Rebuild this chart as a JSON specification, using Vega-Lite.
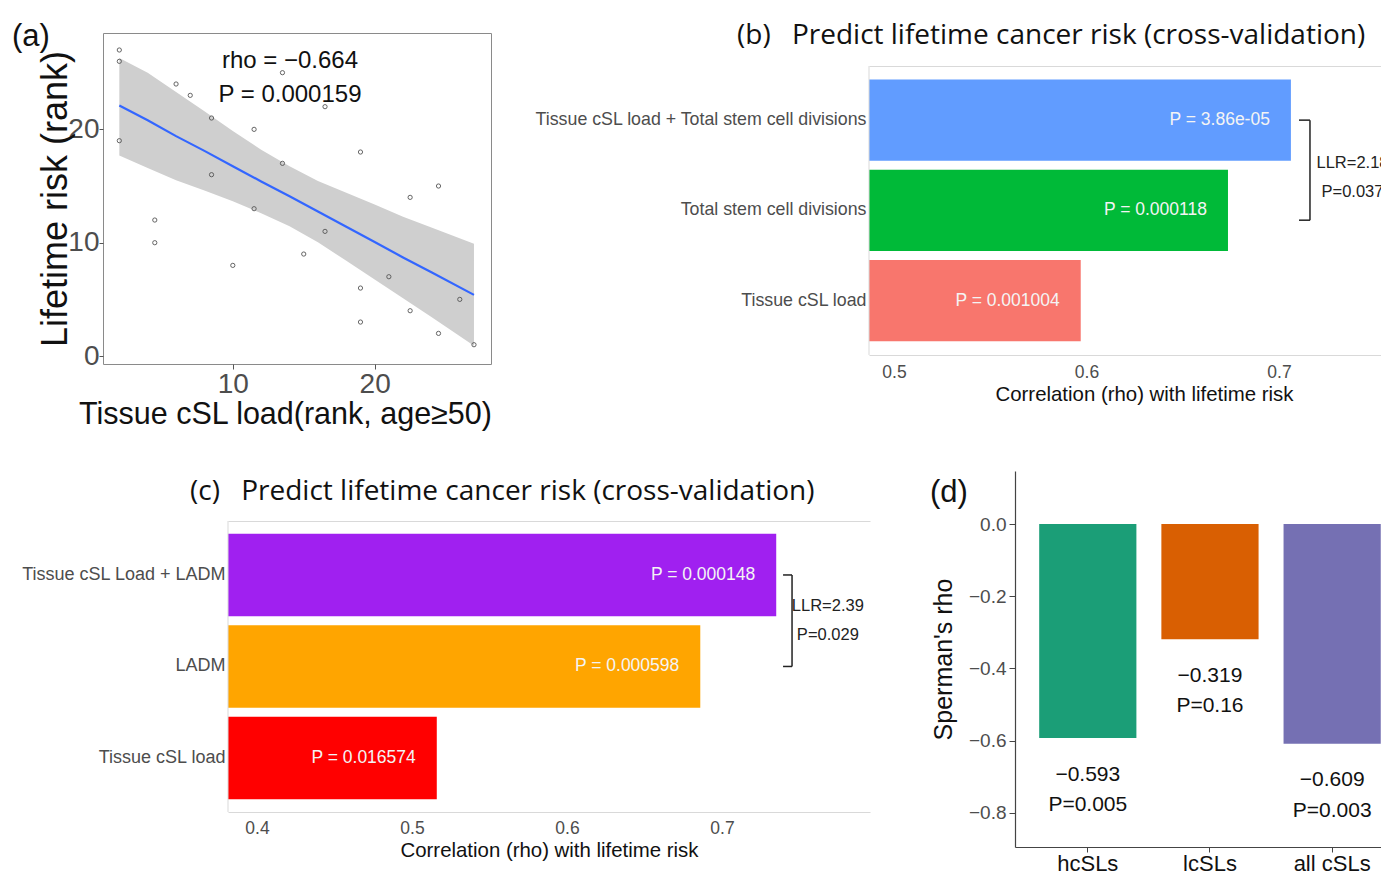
{
"$schema": "https://vega.github.io/schema/vega-lite/v6.json",
"background": "white",
"padding": {"left": 11, "top": 20, "right": 0, "bottom": 0},
"config": {"view": {"stroke": null}, "axis": {"grid": false}, "font": "Liberation Sans"},
"datasets": {
"pts": [{"x":2,"y":27},{"x":2,"y":26},{"x":2,"y":19},{"x":6,"y":24},{"x":7,"y":23},{"x":13.5,"y":25},{"x":16.5,"y":22},{"x":8.5,"y":21},{"x":11.5,"y":20},{"x":13.5,"y":17},{"x":8.5,"y":16},{"x":19,"y":18},{"x":22.5,"y":14},{"x":24.5,"y":15},{"x":4.5,"y":12},{"x":4.5,"y":10},{"x":11.5,"y":13},{"x":16.5,"y":11},{"x":15,"y":9},{"x":10,"y":8},{"x":21,"y":7},{"x":19,"y":6},{"x":26,"y":5},{"x":22.5,"y":4},{"x":19,"y":3},{"x":24.5,"y":2},{"x":27,"y":1}],
"band": [{"x":2,"lo":17.7,"fit":22.1,"hi":26.3},{"x":4,"lo":16.6,"fit":20.8,"hi":25.0},{"x":6,"lo":15.5,"fit":19.4,"hi":23.3},{"x":8,"lo":14.6,"fit":18.1,"hi":21.6},{"x":10,"lo":13.65,"fit":16.75,"hi":19.85},{"x":12,"lo":12.6,"fit":15.4,"hi":18.2},{"x":14,"lo":11.45,"fit":14.1,"hi":16.75},{"x":16,"lo":10.05,"fit":12.75,"hi":15.45},{"x":18,"lo":8.4,"fit":11.4,"hi":14.4},{"x":20,"lo":6.76,"fit":10.06,"hi":13.36},{"x":22,"lo":5.1,"fit":8.7,"hi":12.3},{"x":24,"lo":3.45,"fit":7.4,"hi":11.35},{"x":27,"lo":0.9,"fit":5.4,"hi":9.9}],
"ann": [{"x":14.03,"y":26.03,"label":"rho = −0.664"},{"x":14.03,"y":23.03,"label":"P = 0.000159"}],
"b": [{"model":"Tissue cSL load + Total stem cell divisions","rho":0.7062,"p":"P = 3.86e-05"},{"model":"Total stem cell divisions","rho":0.6735,"p":"P = 0.000118"},{"model":"Tissue cSL load","rho":0.597,"p":"P = 0.001004"}],
"c": [{"model":"Tissue cSL Load + LADM","rho":0.735,"p":"P = 0.000148"},{"model":"LADM","rho":0.686,"p":"P = 0.000598"},{"model":"Tissue cSL load","rho":0.516,"p":"P = 0.016574"}],
"d": [{"set":"hcSLs","rho":-0.593,"r":"−0.593","p":"P=0.005"},{"set":"lcSLs","rho":-0.319,"r":"−0.319","p":"P=0.16"},{"set":"all cSLs","rho":-0.609,"r":"−0.609","p":"P=0.003"}]
},
"columns": 2,
"align": "none",
"bounds": "flush",
"spacing": {"row": 107, "column": 232},
"resolve": {"scale": {"color": "independent"}},
"concat": [
 {"width": 388, "height": 331,
  "view": {"stroke": "#8a8a8a", "strokeWidth": 1},
  "title": {"text": "(a)", "anchor": "start", "frame": "group", "dx": -91, "offset": 0, "dy": 50.5, "baseline": "bottom", "font": "Liberation Sans", "fontSize": 31, "fontWeight": "normal", "color": "#111"},
  "layer": [
   {"data": {"name": "band"}, "mark": {"type": "area", "color": "#cfcfcf", "opacity": 1},
    "encoding": {
     "x": {"field": "x", "type": "quantitative", "scale": {"domain": [0.85, 28.2], "nice": false, "zero": false},
       "axis": {"values": [10, 20], "title": "Tissue cSL load(rank, age≥50)", "titleFont": "Liberation Sans", "titleFontSize": 30.5, "titleFontWeight": "normal", "titleColor": "#111", "titlePadding": 1, "titleX": 182, "labelFontSize": 28, "labelColor": "#4d4d4d", "labelPadding": 1, "tickSize": 5, "tickColor": "#555", "domain": false}},
     "y": {"field": "lo", "type": "quantitative", "scale": {"domain": [-0.7, 28.5], "nice": false, "zero": false},
       "axis": {"values": [0, 10, 20], "title": "Lifetime risk (rank)", "titleFont": "Liberation Sans", "titleFontSize": 36, "titleFontWeight": "normal", "titleColor": "#111", "titlePadding": -7, "labelFontSize": 28, "labelColor": "#4d4d4d", "labelPadding": 0, "tickSize": 4, "tickColor": "#555", "domain": false}},
     "y2": {"field": "hi"}}},
   {"data": {"name": "band"}, "mark": {"type": "line", "color": "#3366ff", "strokeWidth": 2.2},
    "encoding": {"x": {"field": "x", "type": "quantitative"}, "y": {"field": "fit", "type": "quantitative"}}},
   {"data": {"name": "pts"}, "mark": {"type": "point", "shape": "circle", "filled": false, "size": 18, "stroke": "#555", "strokeWidth": 0.9, "opacity": 1},
    "encoding": {"x": {"field": "x", "type": "quantitative"}, "y": {"field": "y", "type": "quantitative"}}},
   {"data": {"name": "ann"}, "mark": {"type": "text", "font": "Liberation Sans", "fontSize": 24, "color": "#111", "baseline": "middle", "align": "center"},
    "encoding": {"x": {"field": "x", "type": "quantitative"}, "y": {"field": "y", "type": "quantitative"}, "text": {"field": "label"}}}
  ]},
 {"width": 512, "height": 331,
  "title": {"text": "(b)\u2002 Predict lifetime cancer risk (cross-validation)", "anchor": "start", "frame": "group", "dx": -132, "offset": 0, "dy": 44.5, "baseline": "bottom", "font": "Open Sans", "fontSize": 28, "fontWeight": "normal", "color": "#111"},
  "resolve": {"axis": {"x": "independent", "y": "independent"}},
  "layer": [
   {"data": {"name": "b"}, "mark": {"type": "bar", "clip": true},
    "encoding": {
     "y": {"field": "model", "type": "nominal", "scale": {"domain": ["Tissue cSL load + Total stem cell divisions", "Total stem cell divisions", "Tissue cSL load"], "paddingInner": 0.1, "paddingOuter": 0.3828, "align": 0.6726, "round": false},
       "axis": {"title": null, "labelFont": "Liberation Sans", "labelFontSize": 17.8, "labelColor": "#4d4d4d", "labelPadding": 3, "ticks": false, "tickSize": 0, "domain": false, "labelLimit": 500}},
     "x": {"field": "rho", "type": "quantitative", "scale": {"domain": [0.487, 0.753], "nice": false, "zero": false},
       "axis": {"offset": -9, "values": [0.5, 0.6, 0.7], "format": ".1f", "title": "Correlation (rho) with lifetime risk", "titleFont": "Liberation Sans", "titleFontSize": 20.4, "titleFontWeight": "normal", "titleColor": "#111", "titlePadding": 4, "titleX": 275, "labelFont": "Liberation Sans", "labelFontSize": 17.5, "labelColor": "#4d4d4d", "labelPadding": 8, "ticks": false, "tickSize": 0, "domainColor": "#d9d9d9"}},
     "color": {"field": "model", "type": "nominal", "scale": {"domain": ["Tissue cSL load + Total stem cell divisions", "Total stem cell divisions", "Tissue cSL load"], "range": ["#619cff", "#00ba38", "#f8766d"]}, "legend": null}}},
   {"data": {"name": "b"}, "mark": {"type": "text", "align": "right", "dx": -21, "baseline": "middle", "font": "Liberation Sans", "fontSize": 17.5, "color": "#f4f4f4"},
    "encoding": {
     "y": {"field": "model", "type": "nominal", "scale": {"domain": ["Tissue cSL load + Total stem cell divisions", "Total stem cell divisions", "Tissue cSL load"]}, "axis": null},
     "x": {"field": "rho", "type": "quantitative", "axis": {"orient": "top", "offset": -33, "labels": false, "ticks": false, "tickSize": 0, "title": null, "domainColor": "#d9d9d9"}},
     "text": {"field": "p"}}},
   {"data": {"values": [{"x": 0.487, "ya": "Tissue cSL load + Total stem cell divisions", "yb": "Tissue cSL load"}]}, "mark": {"type": "rule", "color": "#d9d9d9", "strokeWidth": 1},
    "encoding": {
     "x": {"field": "x", "type": "quantitative", "axis": null},
     "y": {"field": "ya", "type": "nominal", "bandPosition": -0.166, "scale": {"domain": ["Tissue cSL load + Total stem cell divisions", "Total stem cell divisions", "Tissue cSL load"]}, "axis": null},
     "y2": {"field": "yb", "bandPosition": 1.167}}},
   {"data": {"values": [{"x": 0.7161, "ya": "Tissue cSL load + Total stem cell divisions", "yb": "Total stem cell divisions"}]}, "mark": {"type": "rule", "color": "#222", "strokeWidth": 1.5},
    "encoding": {
     "x": {"field": "x", "type": "quantitative", "axis": null},
     "y": {"field": "ya", "type": "nominal", "bandPosition": 0.5, "scale": {"domain": ["Tissue cSL load + Total stem cell divisions", "Total stem cell divisions", "Tissue cSL load"]}, "axis": null},
     "y2": {"field": "yb", "bandPosition": 0.62}}},
   {"data": {"values": [{"x1": 0.7104, "x2": 0.7161, "y": "Tissue cSL load + Total stem cell divisions"}]}, "mark": {"type": "rule", "color": "#222", "strokeWidth": 1.5},
    "encoding": {
     "x": {"field": "x1", "type": "quantitative", "axis": null}, "x2": {"field": "x2"},
     "y": {"field": "y", "type": "nominal", "bandPosition": 0.5, "scale": {"domain": ["Tissue cSL load + Total stem cell divisions", "Total stem cell divisions", "Tissue cSL load"]}, "axis": null}}},
   {"data": {"values": [{"x1": 0.7104, "x2": 0.7161, "y": "Total stem cell divisions"}]}, "mark": {"type": "rule", "color": "#222", "strokeWidth": 1.5},
    "encoding": {
     "x": {"field": "x1", "type": "quantitative", "axis": null}, "x2": {"field": "x2"},
     "y": {"field": "y", "type": "nominal", "bandPosition": 0.62, "scale": {"domain": ["Tissue cSL load + Total stem cell divisions", "Total stem cell divisions", "Tissue cSL load"]}, "axis": null}}},
   {"data": {"values": [{"x": 0.7382, "y": "Tissue cSL load + Total stem cell divisions", "label": "LLR=2.18\nP=0.037"}]}, "mark": {"type": "text", "clip": true, "lineBreak": "\n", "lineHeight": 29, "align": "center", "baseline": "middle", "font": "Liberation Sans", "fontSize": 16.5, "color": "#222"},
    "encoding": {
     "x": {"field": "x", "type": "quantitative", "axis": null},
     "y": {"field": "y", "type": "nominal", "bandPosition": 1.03, "scale": {"domain": ["Tissue cSL load + Total stem cell divisions", "Total stem cell divisions", "Tissue cSL load"]}, "axis": null},
     "text": {"field": "label"}}}
  ]},
 {"width": 534, "height": 341,
  "title": {"text": "(c)\u2002 Predict lifetime cancer risk (cross-validation)", "anchor": "start", "frame": "group", "dx": 87, "offset": 0, "dy": 62.5, "baseline": "bottom", "font": "Open Sans", "fontSize": 28, "fontWeight": "normal", "color": "#111"},
  "resolve": {"axis": {"x": "independent", "y": "independent"}},
  "layer": [
   {"data": {"name": "c"}, "mark": {"type": "bar"},
    "encoding": {
     "y": {"field": "model", "type": "nominal", "scale": {"domain": ["Tissue cSL Load + LADM", "LADM", "Tissue cSL load"], "paddingInner": 0.1, "paddingOuter": 0.4134, "align": 0.83, "round": false},
       "axis": {"offset": -125, "title": null, "labelFont": "Liberation Sans", "labelFontSize": 18, "labelColor": "#4d4d4d", "labelPadding": 3, "ticks": false, "tickSize": 0, "domain": false, "labelLimit": 500}},
     "x": {"field": "rho", "type": "quantitative", "scale": {"domain": [0.3813, 0.7955], "range": [125, 767], "nice": false, "zero": false},
       "axis": {"values": [0.4, 0.5, 0.6, 0.7], "format": ".1f", "title": "Correlation (rho) with lifetime risk", "titleFont": "Liberation Sans", "titleFontSize": 20.4, "titleFontWeight": "normal", "titleColor": "#111", "titlePadding": 4, "labelFont": "Liberation Sans", "labelFontSize": 17.5, "labelColor": "#4d4d4d", "labelPadding": 7, "ticks": false, "tickSize": 0, "domainColor": "#d9d9d9"}},
     "x2": {"datum": 0.3813},
     "color": {"field": "model", "type": "nominal", "scale": {"domain": ["Tissue cSL Load + LADM", "LADM", "Tissue cSL load"], "range": ["#a020f0", "#ffa500", "#ff0000"]}, "legend": null}}},
   {"data": {"name": "c"}, "mark": {"type": "text", "align": "right", "dx": -21, "baseline": "middle", "font": "Liberation Sans", "fontSize": 17.5, "color": "#f4f4f4"},
    "encoding": {
     "y": {"field": "model", "type": "nominal", "scale": {"domain": ["Tissue cSL Load + LADM", "LADM", "Tissue cSL load"]}, "axis": null},
     "x": {"field": "rho", "type": "quantitative", "axis": {"orient": "top", "offset": -50, "labels": false, "ticks": false, "tickSize": 0, "title": null, "domainColor": "#d9d9d9"}},
     "text": {"field": "p"}}},
   {"data": {"values": [{"x": 0.3813, "ya": "Tissue cSL Load + LADM", "yb": "Tissue cSL load"}]}, "mark": {"type": "rule", "color": "#d9d9d9", "strokeWidth": 1},
    "encoding": {
     "x": {"field": "x", "type": "quantitative", "axis": null},
     "y": {"field": "ya", "type": "nominal", "bandPosition": -0.155, "scale": {"domain": ["Tissue cSL Load + LADM", "LADM", "Tissue cSL load"]}, "axis": null},
     "y2": {"field": "yb", "bandPosition": 1.156}}},
   {"data": {"values": [{"x": 0.7452, "ya": "Tissue cSL Load + LADM", "yb": "LADM"}]}, "mark": {"type": "rule", "color": "#222", "strokeWidth": 1.5},
    "encoding": {
     "x": {"field": "x", "type": "quantitative", "axis": null},
     "y": {"field": "ya", "type": "nominal", "bandPosition": 0.5, "scale": {"domain": ["Tissue cSL Load + LADM", "LADM", "Tissue cSL load"]}, "axis": null},
     "y2": {"field": "yb", "bandPosition": 0.5}}},
   {"data": {"values": [{"x1": 0.7394, "x2": 0.7452, "y": "Tissue cSL Load + LADM"}, {"x1": 0.7394, "x2": 0.7452, "y": "LADM"}]}, "mark": {"type": "rule", "color": "#222", "strokeWidth": 1.5},
    "encoding": {
     "x": {"field": "x1", "type": "quantitative", "axis": null}, "x2": {"field": "x2"},
     "y": {"field": "y", "type": "nominal", "bandPosition": 0.5, "scale": {"domain": ["Tissue cSL Load + LADM", "LADM", "Tissue cSL load"]}, "axis": null}}},
   {"data": {"values": [{"x": 0.7683, "y": "Tissue cSL Load + LADM", "label": "LLR=2.39\nP=0.029"}]}, "mark": {"type": "text", "lineBreak": "\n", "lineHeight": 29, "align": "center", "baseline": "middle", "font": "Liberation Sans", "fontSize": 16.5, "color": "#222"},
    "encoding": {
     "x": {"field": "x", "type": "quantitative", "axis": null},
     "y": {"field": "y", "type": "nominal", "bandPosition": 0.88, "scale": {"domain": ["Tissue cSL Load + LADM", "LADM", "Tissue cSL load"]}, "axis": null},
     "text": {"field": "label"}}}
  ]},
 {"width": 512, "height": 376,
  "title": {"text": "(d)", "anchor": "start", "frame": "group", "dx": 61, "offset": 0, "dy": 68.5, "baseline": "bottom", "font": "Liberation Sans", "fontSize": 31, "fontWeight": "normal", "color": "#111"},
  "data": {"name": "d"},
  "layer": [
   {"mark": {"type": "bar"},
    "encoding": {
     "x": {"field": "set", "type": "nominal", "scale": {"domain": ["hcSLs", "lcSLs", "all cSLs"], "range": [146, 512], "paddingInner": 0.2044, "paddingOuter": 0.1, "align": 0.99, "round": false},
       "axis": {"title": null, "labelAngle": 0, "labelFontSize": 22, "labelColor": "#111", "labelPadding": 1, "tickSize": 5, "tickColor": "#444", "domainColor": "#444", "domainWidth": 1.2}},
     "y": {"field": "rho", "type": "quantitative", "scale": {"domain": [-0.895, 0.147], "nice": false, "zero": false},
       "axis": {"offset": -146, "values": [0, -0.2, -0.4, -0.6, -0.8], "format": ".1f", "title": "Sperman's rho", "titleFont": "Liberation Sans", "titleFontSize": 25, "titleFontWeight": "normal", "titleColor": "#111", "titlePadding": 12, "labelFontSize": 19, "labelColor": "#4d4d4d", "labelPadding": 3, "tickSize": 6, "tickColor": "#444", "domainColor": "#444", "domainWidth": 1.2}},
     "y2": {"datum": 0},
     "color": {"field": "set", "type": "nominal", "scale": {"domain": ["hcSLs", "lcSLs", "all cSLs"], "range": ["#1b9e77", "#d95f02", "#7570b3"]}, "legend": null}}},
   {"mark": {"type": "text", "dy": 36.5, "baseline": "middle", "align": "center", "fontSize": 21, "color": "#111"},
    "encoding": {"x": {"field": "set", "type": "nominal"}, "y": {"field": "rho", "type": "quantitative"}, "text": {"field": "r"}}},
   {"mark": {"type": "text", "dy": 67, "baseline": "middle", "align": "center", "fontSize": 21, "color": "#111"},
    "encoding": {"x": {"field": "set", "type": "nominal"}, "y": {"field": "rho", "type": "quantitative"}, "text": {"field": "p"}}}
  ]}
]
}
